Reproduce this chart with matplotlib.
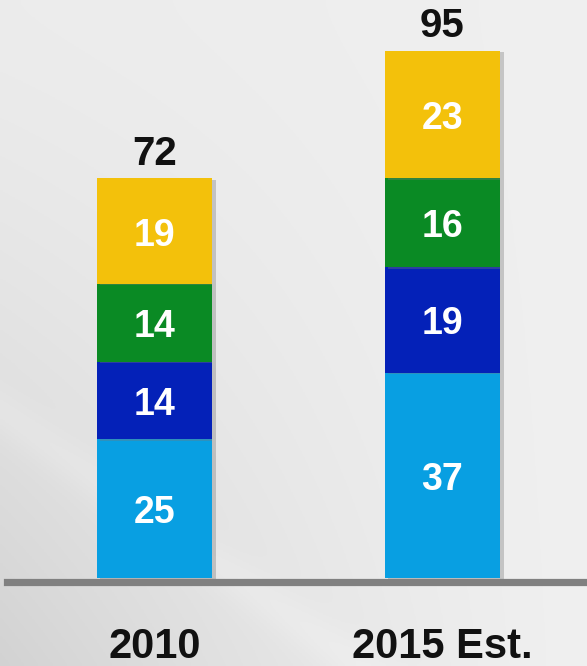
import numpy as np
import matplotlib
matplotlib.use("Agg")
import matplotlib.pyplot as plt
import matplotlib.patheffects as pe

categories = ["2010", "2015 Est."]
seg_light_blue = [25, 37]
seg_dark_blue = [14, 19]
seg_green = [14, 16]
seg_yellow = [19, 23]
totals = [72, 95]

colors = ["#089FE2", "#0421B8", "#0A8A24", "#F3C10B"]
series = [seg_light_blue, seg_dark_blue, seg_green, seg_yellow]

plt.rcParams['font.family'] = ['Liberation Sans', 'DejaVu Sans']

W, H = 587, 666
fig = plt.figure(figsize=(W / 100, H / 100), dpi=100)

# background gradient
bg = fig.add_axes([0, 0, 1, 1])
yy, xx = np.mgrid[0:1:200j, 0:1:200j]
val = 0.925 - 0.10 * yy ** 1.5 * (1 - xx) ** 1.5 + 0.015 * xx
streak = 0.02 * np.exp(-((xx - (yy - 0.62) * 1.6) ** 2) / 0.004) * (yy > 0.55)
val = np.clip(val + streak, 0, 1)
bg.imshow(np.dstack([val, val, val]), extent=[0, 1, 0, 1], aspect='auto', origin='upper')
bg.set_axis_off()

ax = fig.add_axes([0, 0, 1, 1])
ax.patch.set_alpha(0)
ax.set_axis_off()
px_per_unit = 5.55
base_px = 88
ax.set_xlim(-154.5 / 288, 1 + (W - 442.5) / 288)
ax.set_ylim(-base_px / px_per_unit, (H - base_px) / px_per_unit)

x = np.arange(len(categories))
ax.axhline(-0.75, xmin=7 / W, xmax=1, color="#808080", lw=5.2, zorder=1)

bottom = np.zeros(len(categories))
shadow = [pe.SimplePatchShadow(offset=(2.5, -1), shadow_rgbFace='#777777', alpha=0.35), pe.Normal()]
inner_fs = 27
for vals, c in zip(series, colors):
    vals = np.array(vals, dtype=float)
    bars = ax.bar(x, vals, width=0.4, bottom=bottom, color=c, zorder=2, linewidth=0)
    for b in bars:
        b.set_path_effects(shadow)
    for xi, v, b0 in zip(x, vals, bottom):
        ax.annotate(f"{int(v)}", (xi, b0 + v / 2), xytext=(0, -0.716 * inner_fs / 2 - 0.7),
                    textcoords='offset points', ha='center', va='baseline', color='white',
                    fontsize=inner_fs, fontweight='bold', zorder=3)
    bottom += vals

for xi, t in zip(x, totals):
    ax.annotate(f"{t}", (xi, t), xytext=(0, 10), textcoords='offset points',
                ha='center', va='baseline', fontsize=29, fontweight='bold', color='#111111')

for xi, cat in zip(x, categories):
    ax.text(xi, -14.4, cat, ha='center', va='baseline', fontsize=30, fontweight='bold', color='#111111')

fig.savefig("out.png", dpi=100)
